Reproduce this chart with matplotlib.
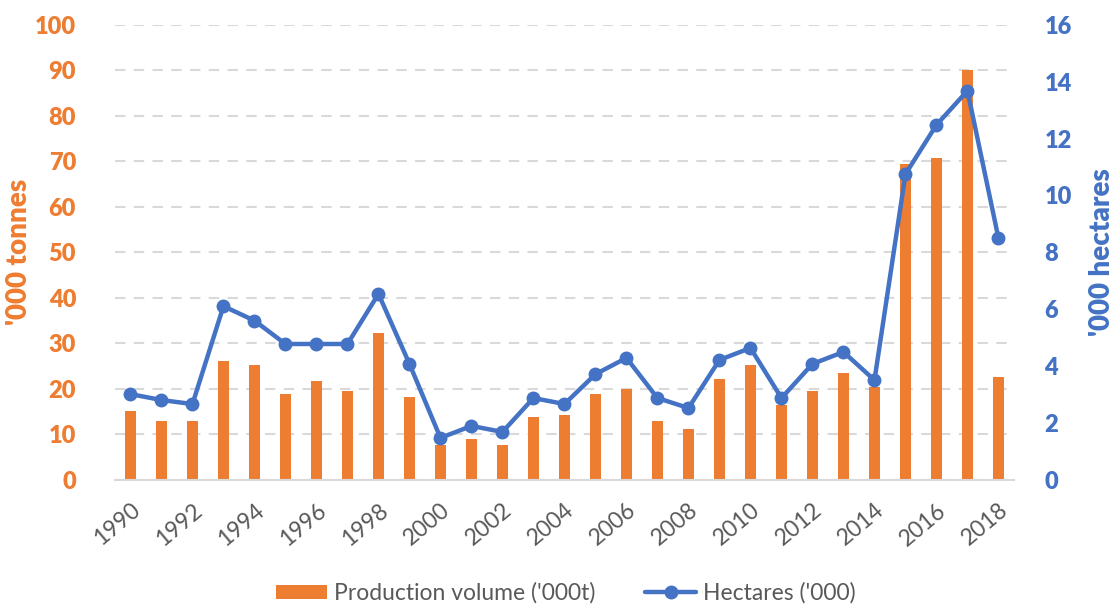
import matplotlib
matplotlib.use("Agg")
import matplotlib.pyplot as plt
import numpy as np

years = list(range(1990, 2019))
production = [15.1, 12.9, 12.9, 26.1, 25.2, 19.0, 21.7, 19.5, 32.2, 18.2,
              7.7, 8.9, 7.7, 13.8, 14.2, 19.0, 19.9, 12.9, 11.1, 22.1,
              25.2, 16.4, 19.5, 23.4, 20.4, 69.4, 70.7, 90.0, 22.6]
hectares = [3.02, 2.81, 2.67, 6.11, 5.60, 4.78, 4.78, 4.78, 6.54, 4.08,
            1.48, 1.90, 1.69, 2.88, 2.67, 3.72, 4.29, 2.88, 2.53, 4.22,
            4.64, 2.88, 4.08, 4.50, 3.51, 10.75, 12.48, 13.68, 8.50]
xtick_labels = [str(y) for y in years[::2]]

ORANGE = "#ED7D31"
BLUE = "#4472C4"
GRAY = "#595959"

plt.rcParams['font.family'] = ['Lato', 'DejaVu Sans']

fig = plt.figure(figsize=(11.14, 6.06), dpi=100)
ax = fig.add_axes([0.1032, 0.2079, 0.807, 0.7513])
ax2 = ax.twinx()

x = np.arange(len(years))
ax.bar(x, production, width=0.36, color=ORANGE, zorder=2,
       label="Production volume ('000t)")
ax2.plot(x, hectares, color=BLUE, lw=3.2, marker='o', ms=9,
         label="Hectares ('000)", zorder=3, solid_capstyle='round')

ax.set_xlim(-0.5, len(years) - 0.5)
ax.set_ylim(0, 100)
ax2.set_ylim(0, 16)
ax.set_yticks(range(0, 101, 10))
ax2.set_yticks(range(0, 17, 2))

ax.yaxis.grid(True, color="#D9D9D9", lw=1.5, ls=(0, (5, 4)), zorder=0)
ax.set_axisbelow(True)

for a in (ax, ax2):
    for s in a.spines.values():
        s.set_visible(False)
ax.spines['bottom'].set_visible(True)
ax.spines['bottom'].set_color("#D9D9D9")
ax.spines['bottom'].set_linewidth(1.5)

ax.set_xticks(x[::2])
ax.set_xticklabels(xtick_labels, rotation=40, ha='right', rotation_mode='anchor',
                   fontsize=16.5, color=GRAY)
ax.tick_params(axis='x', length=0, pad=14)
ax.tick_params(axis='y', length=0, pad=28, labelsize=17, labelcolor=ORANGE)
ax2.tick_params(axis='y', length=0, pad=22, labelsize=17, labelcolor=BLUE)
for lab in ax.get_yticklabels():
    lab.set_fontweight('heavy')
for lab in ax2.get_yticklabels():
    lab.set_fontweight('heavy')

ax.set_ylabel("'000 tonnes", color=ORANGE, fontsize=20, fontweight='heavy', labelpad=2)
ax2.set_ylabel("'000 hectares", color=BLUE, fontsize=20, fontweight='heavy',
               rotation=90, labelpad=12)

h1, l1 = ax.get_legend_handles_labels()
h2, l2 = ax2.get_legend_handles_labels()
fig.legend(h1 + h2, l1 + l2, loc='center', bbox_to_anchor=(0.508, 0.021),
           ncol=2, frameon=False, fontsize=16.5, labelcolor=GRAY,
           handlelength=2.2, handleheight=0.6, columnspacing=2.2, handletextpad=0.3)

fig.savefig("out.png", dpi=100)
